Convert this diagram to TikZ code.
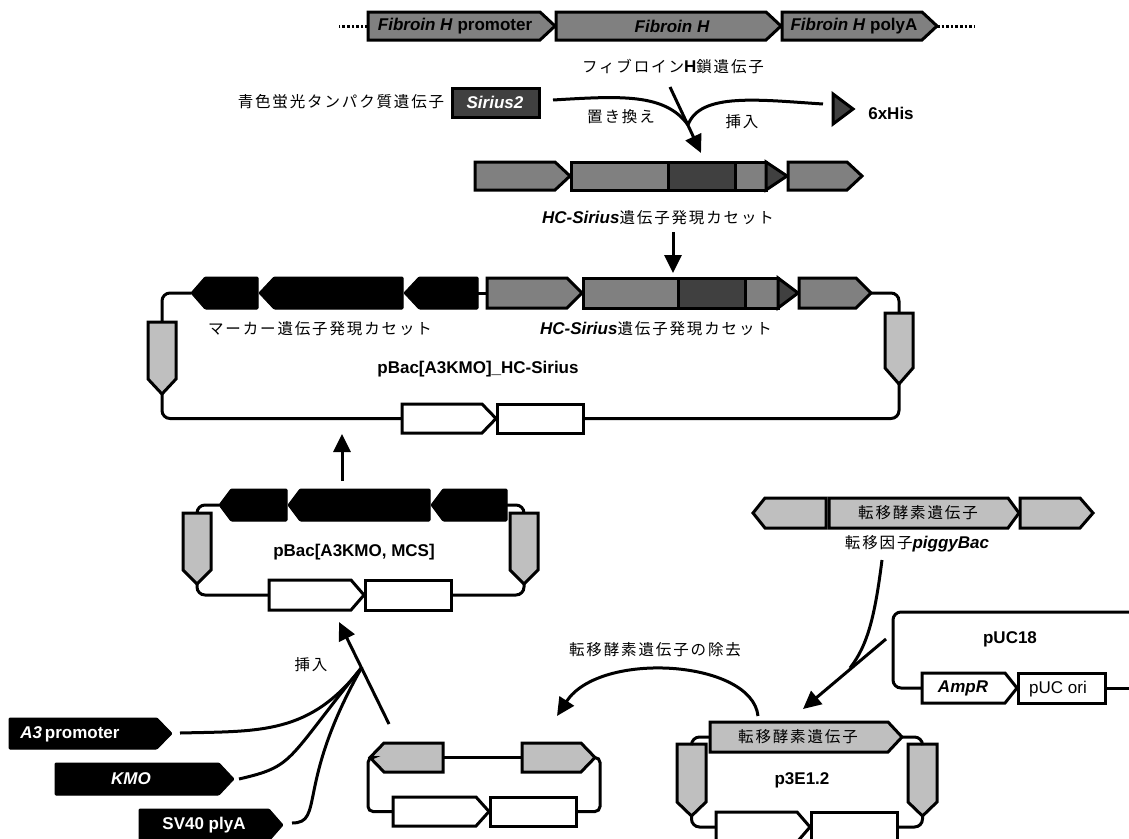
\documentclass[tikz,border=0pt]{standalone}
\usepackage{fontspec}
\setmainfont{Liberation Sans}
\newfontfamily\jp[LetterSpace=12]{Noto Sans CJK JP}
\usetikzlibrary{arrows.meta}
\newcommand{\geneR}[7]{%
  \draw[#2] (#3,#5) -- (#7,#5) -- (#4,{(#5+#6)/2}) -- (#7,#6) -- (#3,#6) -- cycle;
  \coordinate (#1-w) at (#3,{(#5+#6)/2});
  \coordinate (#1-e) at (#4,{(#5+#6)/2});}
\newcommand{\geneL}[7]{%
  \draw[#2] (#4,#5) -- (#7,#5) -- (#3,{(#5+#6)/2}) -- (#7,#6) -- (#4,#6) -- cycle;
  \coordinate (#1-w) at (#3,{(#5+#6)/2});
  \coordinate (#1-e) at (#4,{(#5+#6)/2});}
\newcommand{\geneD}[7]{%
  \draw[#2] (#3,#5) -- (#3,#7) -- ({(#3+#4)/2},#6) -- (#4,#7) -- (#4,#5) -- cycle;
  \coordinate (#1-n) at ({(#3+#4)/2},#5);
  \coordinate (#1-s) at ({(#3+#4)/2},#6);}
\newcommand{\boxR}[6]{%
  \draw[#2] (#3,#5) rectangle (#4,#6);
  \coordinate (#1-w) at (#3,{(#5+#6)/2});
  \coordinate (#1-e) at (#4,{(#5+#6)/2});}
\newcommand{\lb}{\fontsize{17}{19}\selectfont\rmfamily\bfseries\upshape}
\newcommand{\lbi}{\fontsize{17}{19}\selectfont\rmfamily\bfseries\itshape}
\newcommand{\jt}{\fontsize{15.5}{18}\selectfont\jp\mdseries\upshape}
\tikzset{
  x=1pt,y=-1pt,
  gl/.style={line width=3pt,line join=miter,draw=black},
  mg/.style={gl,fill=gmid},
  dg/.style={gl,fill=gdark},
  lg/.style={gl,fill=glight},
  wg/.style={gl,fill=white},
  kg/.style={line width=1pt,rounded corners=1pt,draw=black,fill=black},
  wire/.style={line width=3pt,rounded corners=8pt,draw=black},
  conn/.style={line width=3pt,draw=black},
  arr/.style={conn,-{Triangle[length=18pt,width=17pt]}},
  dots/.style={line width=3pt,dash pattern=on 2.6pt off 2pt},
  txt/.style={inner sep=0pt,outer sep=0pt,anchor=center,text=black},
}
\definecolor{gmid}{HTML}{808080}
\definecolor{gdark}{HTML}{404040}
\definecolor{glight}{HTML}{BFBFBF}
\begin{document}
\begin{tikzpicture}
\useasboundingbox (0,0) rectangle (1129,838);
\clip (0,0) rectangle (1129,838);
% top row
\geneR{p}{mg}{368}{555}{12}{40}{540}
\geneR{f}{mg}{556}{781}{12}{40}{766}
\geneR{a}{mg}{782}{937}{12}{40}{922}
\draw[dots] (p-w) -- ++(-29,0) coordinate (dl);
\draw[dots] (a-e) -- ++(38,0) coordinate (dr);
\node[txt] (tp) at (455,26) {\lbi Fibroin H\/ \lb promoter};
\node[txt] (tf) at (672,26) {\lbi Fibroin H};
\node[txt] (ta) at (854,26) {\lbi Fibroin H\/ \lb polyA};
\node[txt] (tfh) at (673,66) {\jt フィブロイン{\lb H}\jt 鎖遺伝子};
\node[txt] (tblue) at (341,102) {\jt 青色蛍光タンパク質遺伝子};
\boxR{sb}{dg}{452}{539}{88}{117}
\node[txt,text=white] (ts) at (495,102) {\lbi Sirius2};
\geneR{his}{dg}{833}{853}{94}{124}{833}
\node[txt] (th) at (891,113) {\lb 6xHis};
\coordinate (j1) at (688,125);
\coordinate (s1) at (553,100);
\coordinate (s2) at (823,104);
\coordinate (s3) at (670,87);
\coordinate (e3) at (701,153);
\draw[conn] (s1) .. controls (620,96) and (665,93) .. (j1);
\draw[conn] (s2) .. controls (760,100) and (700,92) .. (j1);
\draw[arr] (s3) -- (e3);
\node[txt] (tr) at (621,117) {\jt 置き換え};
\node[txt] (ti) at (742,122) {\jt 挿入};
% cassette 1
\geneR{c1a}{mg}{475}{570}{162}{190}{555}
\boxR{c1b}{mg}{571}{766}{162}{190}
\boxR{c1d}{dg}{668}{735}{162}{190}
\geneR{c1t}{dg}{766}{787}{162}{190}{766}
\geneR{c1c}{mg}{788}{862}{162}{190}{847}
\node[txt] (tc1) at (658,218) {{\lbi HC-Sirius}\jt 遺伝子発現カセット};
\coordinate (v1) at (673,232);
\coordinate (v2) at (673,273);
\draw[arr] (v1) -- (v2);
% big plasmid
\geneL{k1}{kg}{191}{258}{277}{309}{205}
\geneL{k2}{kg}{259}{403}{277}{309}{274}
\geneL{k3}{kg}{404}{478}{277}{309}{419}
\geneR{c2a}{mg}{487}{582}{278}{308}{567}
\boxR{c2b}{mg}{583}{778}{278}{308}
\boxR{c2d}{dg}{678}{745}{278}{308}
\geneR{c2t}{dg}{778}{798}{278}{308}{778}
\geneR{c2c}{mg}{799}{871}{278}{308}{856}
\geneD{bl}{lg}{148}{176}{322}{394}{379}
\geneD{br}{lg}{885}{913}{313}{384}{368}
\geneR{bw1}{wg}{402}{496}{404}{433}{482}
\boxR{bw2}{wg}{497}{583}{404}{433}
\draw[conn] (k3-e) -- (c2a-w);
\draw[wire] (k1-w) -| (bl-n);
\draw[wire] (c2c-e) -| (br-n);
\draw[wire] (bl-s) |- (bw1-w);
\draw[wire] (br-s) |- (bw2-e);
\node[txt] (tm) at (320,329) {\jt マーカー遺伝子発現カセット};
\node[txt] (tc2) at (656,329) {{\lbi HC-Sirius}\jt 遺伝子発現カセット};
\node[txt] (tb1) at (478,369) {\lb pBac[A3KMO]\_HC-Sirius};
\coordinate (u1) at (342,481);
\coordinate (u2) at (342,434);
\draw[arr] (u1) -- (u2);
% small plasmid
\geneL{m1}{kg}{219}{287}{489}{521}{231}
\geneL{m2}{kg}{288}{430}{489}{521}{300}
\geneL{m3}{kg}{431}{507}{489}{521}{443}
\geneD{ml}{lg}{183}{211}{513}{584}{570}
\geneD{mr}{lg}{510}{538}{513}{584}{570}
\geneR{mw1}{wg}{269}{364}{580}{610}{351}
\boxR{mw2}{wg}{365}{451}{580}{610}
\draw[wire] (m1-w) -| (ml-n);
\draw[wire] (m3-e) -| (mr-n);
\draw[wire] (ml-s) |- (mw1-w);
\draw[wire] (mr-s) |- (mw2-e);
\node[txt] (tb2) at (354,552) {\lb pBac[A3KMO, MCS]};
% inserts
\geneR{ia}{kg}{9}{172}{718}{749}{157}
\geneR{ik}{kg}{55}{234}{763}{795}{219}
\geneR{is}{kg}{139}{283}{809}{841}{269}
\node[txt,text=white] (tia) at (70,734) {{\lbi A3} \lb promoter};
\node[txt,text=white] (tik) at (131,779) {\lbi KMO};
\node[txt,text=white] (tis) at (204,825) {\lb SV40 plyA};
\node[txt] (ti2) at (311,665) {\jt 挿入};
\coordinate (j2) at (362,667);
\coordinate (a1) at (180,733);
\coordinate (a2) at (239,779);
\coordinate (a3) at (292,823);
\coordinate (a4) at (389,724);
\coordinate (a5) at (339,622);
\draw[conn] (a1) .. controls (260,731) and (310,735) .. (j2);
\draw[conn] (a2) .. controls (295,766) and (285,762) .. (j2);
\draw[conn] (a3) .. controls (325,823) and (295,785) .. (j2);
\draw[arr] (a4) -- (a5);
% middle plasmid
\geneL{n1}{lg}{370}{443}{743}{772}{384}
\geneR{n2}{lg}{522}{595}{743}{772}{581}
\geneR{nw1}{wg}{393}{489}{797}{826}{476}
\boxR{nw2}{wg}{490}{576}{797}{826}
\draw[conn] (n1-e) -- (n2-w);
\draw[wire,rounded corners=5pt] (n1-w) -- ++(-2,0) |- (nw1-w);
\draw[wire,rounded corners=5pt] (n2-e) -- ++(5,0) |- (nw2-e);
% removal arrow
\coordinate (r1) at (758,716);
\coordinate (r2) at (557,716);
\draw[arr] (r1) .. controls (752,660) and (600,650) .. (r2);
\node[txt] (trm) at (655,650) {\jt 転移酵素遺伝子の除去};
% piggyBac
\geneL{g1}{lg}{753}{826}{498}{528}{765}
\geneR{g2}{lg}{829}{1019}{498}{528}{1008}
\geneR{g3}{lg}{1020}{1093}{498}{528}{1080}
\node[txt] (tg) at (918,513) {\jt 転移酵素遺伝子};
\node[txt] (tpb) at (917,544) {\jt 転移因子{\lbi piggyBac}};
\coordinate (q1) at (882,560);
\coordinate (q2) at (850,668);
\coordinate (q3) at (886,639);
\coordinate (q4) at (803,709);
\draw[conn] (q1) .. controls (875,615) and (868,645) .. (q2);
\draw[arr] (q3) -- (q4);
% pUC18
\geneR{u1g}{wg}{922}{1017}{673}{703}{1005}
\boxR{u2g}{wg}{1018}{1105}{673}{703}
\coordinate (ue) at (1135,612);
\coordinate (ue2) at (1135,688);
\draw[wire] (ue) -- (893,612) |- (u1g-w);
\draw[wire] (u2g-e) -- (ue2);
\node[txt] (tu) at (1010,639) {\lb pUC18};
\node[txt] (tam) at (963,688) {\lbi AmpR};
\node[txt] (tor) at (1058,689) {\fontsize{17}{19}\selectfont pUC ori};
% p3E1.2
\geneR{h1}{lg}{710}{902}{722}{752}{888}
\geneD{hl}{lg}{677}{706}{744}{816}{802}
\geneD{hr}{lg}{908}{937}{744}{816}{802}
\geneR{hw1}{wg}{716}{810}{812}{842}{797}
\boxR{hw2}{wg}{811}{897}{812}{842}
\draw[wire] (h1-w) -| (hl-n);
\draw[wire] (h1-e) -| (hr-n);
\draw[wire] (hl-s) |- (hw1-w);
\draw[wire] (hr-s) |- (hw2-e);
\node[txt] (th1) at (798,737) {\jt 転移酵素遺伝子};
\node[txt] (th2) at (802,780) {\lb p3E1.2};
\end{tikzpicture}
\end{document}
